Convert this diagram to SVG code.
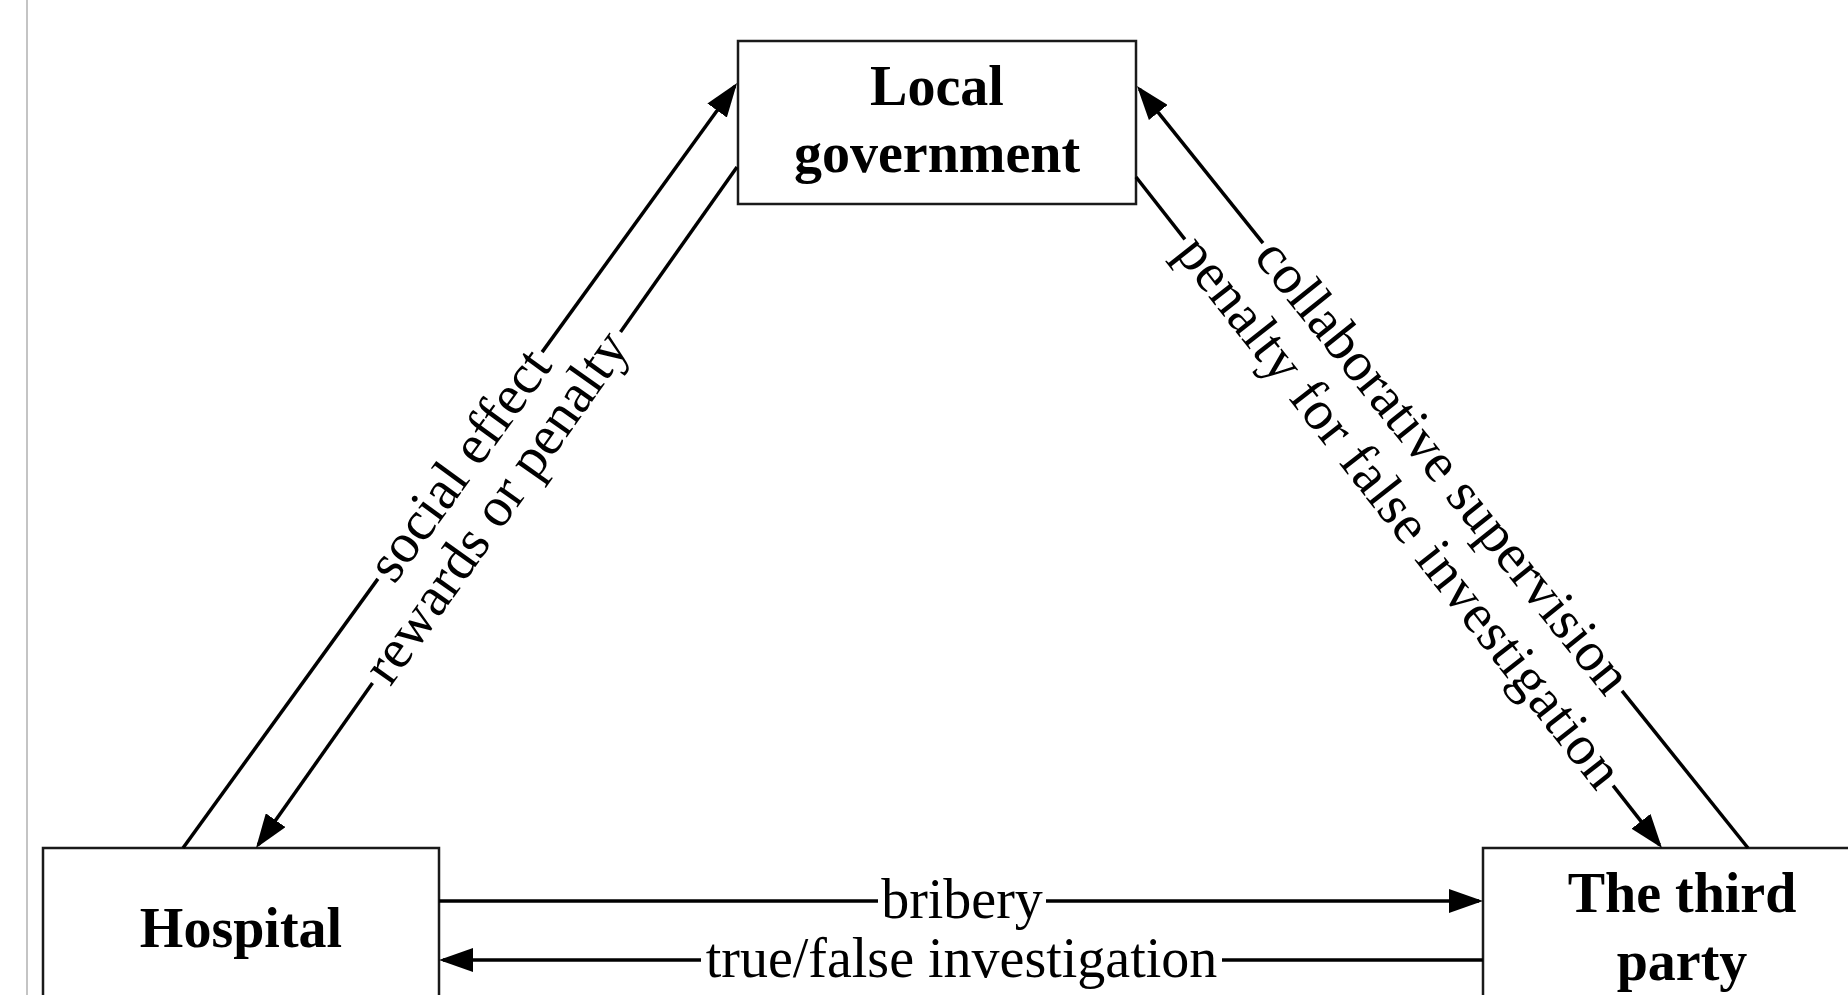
<svg xmlns="http://www.w3.org/2000/svg" width="1848" height="995" viewBox="0 0 1848 995">
  <style>
    .box { fill: #ffffff; stroke: #1a1a1a; stroke-width: 2.5; }
    .node-label { font-family: "Liberation Serif", "Times New Roman", serif; font-size: 56px; font-weight: bold; fill: #000; text-anchor: middle; }
    .edge { fill: none; stroke: #000; stroke-width: 3.5; }
    .edge-label { font-family: "Liberation Serif", "Times New Roman", serif; font-size: 56px; fill: #000; text-anchor: middle; }
  </style>
  <defs>
    <marker id="arrow" markerUnits="userSpaceOnUse" markerWidth="34" markerHeight="24" refX="30" refY="12" orient="auto" viewBox="0 0 34 24">
      <path d="M0,0 L34,12 L0,24 z" fill="#000"/>
    </marker>
  </defs>
  <rect x="0" y="0" width="1848" height="995" fill="#ffffff"/>
  <line x1="27" y1="0" x2="27" y2="995" stroke="#c4c4c4" stroke-width="2"/>

  <g id="node-local-government">
    <rect class="box" x="738" y="41" width="398" height="163"/>
    <text class="node-label" x="937" y="105">Local</text>
    <text class="node-label" x="937" y="172">government</text>
  </g>
  <g id="node-hospital">
    <rect class="box" x="43" y="848" width="396" height="164"/>
    <text class="node-label" x="241" y="947">Hospital</text>
  </g>
  <g id="node-third-party">
    <rect class="box" x="1483" y="848" width="398" height="164"/>
    <text class="node-label" x="1682" y="912">The third</text>
    <text class="node-label" x="1682" y="980">party</text>
  </g>

  <g id="connectors">
    <!-- Hospital -> Local government: social effect -->
    <line class="edge" x1="183" y1="848" x2="377.9" y2="578.9"/>
    <line class="edge" x1="542.1" y1="352.1" x2="734.7" y2="86.2" marker-end="url(#arrow)"/>
    <text class="edge-label" transform="translate(460 465.5) rotate(-54.09)" x="0" y="17">social effect</text>

    <!-- Local government -> Hospital: rewards or penalty -->
    <line class="edge" x1="737" y1="167" x2="620.5" y2="331.9"/>
    <line class="edge" x1="372.5" y1="683.1" x2="258.3" y2="844.7" marker-end="url(#arrow)"/>
    <text class="edge-label" transform="translate(496.5 507.5) rotate(-54.77)" x="0" y="17">rewards or penalty</text>

    <!-- Third party -> Local government: collaborative supervision -->
    <line class="edge" x1="1748" y1="848" x2="1622" y2="690.9"/>
    <line class="edge" x1="1263" y1="243.1" x2="1139.5" y2="89.1" marker-end="url(#arrow)"/>
    <text class="edge-label" transform="translate(1442.5 467) rotate(51.29)" x="0" y="17">collaborative supervision</text>

    <!-- Local government -> Third party: penalty for false investigation -->
    <line class="edge" x1="1136" y1="177" x2="1184.9" y2="239.4"/>
    <line class="edge" x1="1613.1" y1="785.6" x2="1659.5" y2="844.9" marker-end="url(#arrow)"/>
    <text class="edge-label" transform="translate(1399 512.5) rotate(51.91)" x="0" y="17" letter-spacing="0.6">penalty for false investigation</text>

    <!-- Hospital -> Third party: bribery -->
    <line class="edge" x1="439" y1="901" x2="878" y2="901"/>
    <line class="edge" x1="1046" y1="901" x2="1479" y2="901" marker-end="url(#arrow)"/>
    <text class="edge-label" x="962" y="918">bribery</text>

    <!-- Third party -> Hospital: true/false investigation -->
    <line class="edge" x1="1483" y1="960" x2="1222" y2="960"/>
    <line class="edge" x1="701" y1="960" x2="443" y2="960" marker-end="url(#arrow)"/>
    <text class="edge-label" x="961.5" y="977">true/false investigation</text>
  </g>
</svg>
